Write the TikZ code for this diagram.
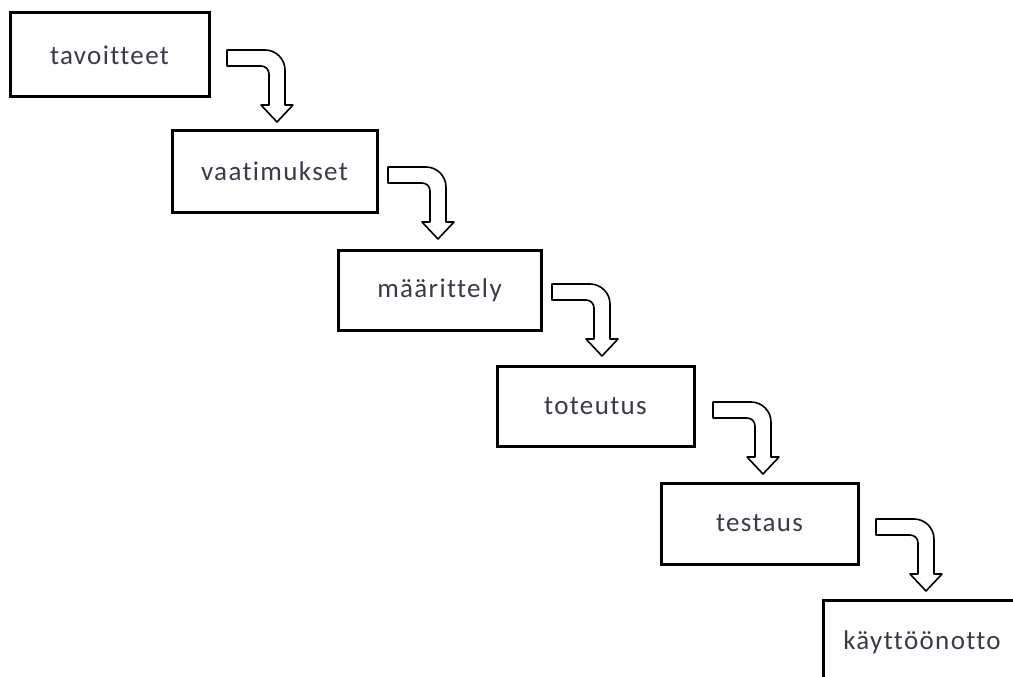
\documentclass[tikz,border=0pt]{standalone}
\usepackage{fontspec}
\setmainfont{Carlito}[LetterSpace=5,Ligatures=NoCommon]
\definecolor{txt}{HTML}{3A3A48}
\begin{document}
\begin{tikzpicture}[x=1pt,y=-1pt,
  box/.style={draw=black,line width=3pt,fill=white,inner sep=0pt,
    font=\fontsize{27}{30}\selectfont,text=txt},
  bent/.style={draw=black,line width=1.6pt,fill=white,line join=round}]
\useasboundingbox (0,0) rectangle (1013,677);
\clip (0,0) rectangle (1013,677);
\fill[white] (0,0) rectangle (1013,677);
\newcommand{\bentarrow}[2]{%
  \begin{scope}[shift={(#1,#2)}]
  \draw[bent] (0,0) -- (38,0) .. controls (49,0) and (58,9) .. (58,20)
    -- (58,55) -- (66,55) -- (50,72) -- (34,55) -- (42,55) -- (42,24)
    .. controls (42,19.5) and (38.5,16) .. (34,16) -- (0,16) -- cycle;
  \end{scope}}
\node[box,minimum width=199pt,minimum height=84pt] (b1) at (109.5,55) {tavoitteet};
\node[box,minimum width=205pt,minimum height=82pt] (b2) at (274.5,171) {vaatimukset};
\node[box,minimum width=203pt,minimum height=80pt] (b3) at (439.5,290) {määrittely};
\node[box,minimum width=197pt,minimum height=80pt] (b4) at (595.5,406) {toteutus};
\node[box,minimum width=197pt,minimum height=81pt] (b5) at (759.5,523.5) {testaus};
\node[box,minimum width=198pt,minimum height=84pt] (b6) at (922,642) {käyttöönotto};
\bentarrow{227}{50}
\bentarrow{388}{167}
\bentarrow{552}{284}
\bentarrow{713}{402}
\bentarrow{876}{519}
\end{tikzpicture}
\end{document}
